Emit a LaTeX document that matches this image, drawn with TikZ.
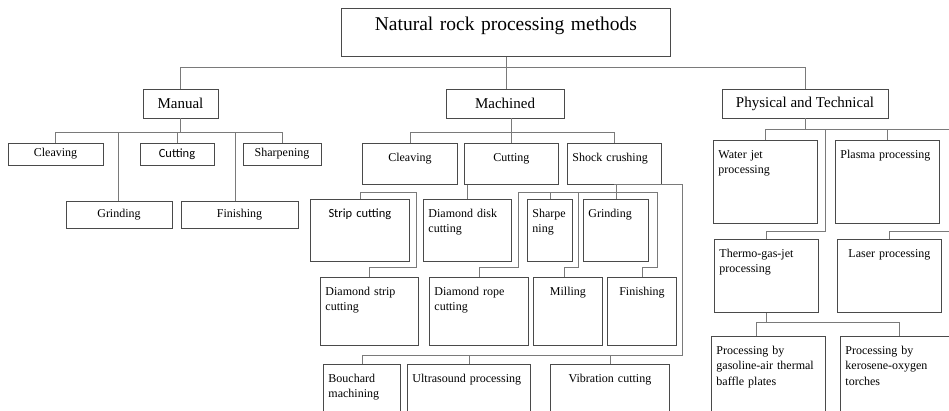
\documentclass[tikz,border=0pt]{standalone}
\usepackage{fontspec}
\setmainfont{Liberation Serif}
\newfontfamily\calib{Carlito}
\usepackage{tikz}
\usetikzlibrary{positioning,calc}
\definecolor{boxc}{HTML}{4A4A4A}
\definecolor{linec}{HTML}{7A7A7A}

\begin{document}
\begin{tikzpicture}[
    x=1pt, y=-1pt,
    link/.style={draw=linec, line width=0.9pt},
    titlebox/.style={draw=boxc, line width=0.9pt, anchor=north west, inner xsep=5pt, inner ysep=6pt, align=center, font=\fontsize{19.5}{23}\selectfont},
    groupbox/.style={draw=boxc, line width=0.9pt, inner sep=0pt, font=\fontsize{15}{17}\selectfont},
    leafbox/.style={draw=boxc, line width=0.9pt, inner sep=0pt, font=\fontsize{12}{15.5}\selectfont},
    tb/.style 2 args={draw=boxc, line width=0.9pt, anchor=north west, inner xsep=5pt, inner ysep=6pt, text height=12pt, text width=#1pt, text depth=#2pt, align=left, font=\fontsize{12}{15.5}\selectfont}
]
    \useasboundingbox (0,0) rectangle (949,411);
    \clip (0,0) rectangle (949,411);
    \fill[white] (0,0) rectangle (949,411);

    % top and first level
    \node [titlebox, text width=319pt, text height=16pt, text depth=20pt] (title) at (341,8) {Natural rock processing methods};
    \node [groupbox, minimum width=75pt, minimum height=29pt] (manual) at (180.5,103.5) {Manual};
    \node [groupbox, minimum width=118pt, minimum height=29pt] (machined) at (505,103.5) {Machined};
    \node [groupbox, minimum width=166pt, minimum height=29pt] (phys) at (805,103.5) {Physical and Technical};

    % manual
    \node [leafbox, minimum width=95pt, minimum height=22pt] (mcleav) at (55.5,154) {Cleaving};
    \node [leafbox, minimum width=74pt, minimum height=22pt, font=\calib\fontsize{12.5}{15}\selectfont] (mcut) at (177,154) {Cutting};
    \node [leafbox, minimum width=78pt, minimum height=22pt] (msharp) at (282,154) {Sharpening};
    \node [leafbox, minimum width=106pt, minimum height=27pt] (mgrind) at (119,214.5) {Grinding};
    \node [leafbox, minimum width=117pt, minimum height=27pt] (mfin) at (239.5,214.5) {Finishing};

    % machined
    \node [tb={85}{17}, align=center] (kcleav) at (362,143) {Cleaving};
    \node [tb={84}{17}, align=center] (kcut) at (464,143) {Cutting};
    \node [tb={84}{17}] (kshock) at (567,143) {Shock crushing};
    \node [tb={89}{38}, align=center, font=\calib\fontsize{12.5}{15.5}\selectfont] (strip) at (310,199) {Strip cutting};
    \node [tb={78}{38}] (ddisk) at (423,199) {Diamond disk\\cutting};
    \node [tb={35}{38}] (sharpn) at (527,199) {Sharpe\\ning};
    \node [tb={55}{38}] (kgrind) at (583,199) {Grinding};
    \node [tb={88}{44}] (dstrip) at (320,277) {Diamond strip\\cutting};
    \node [tb={89}{44}] (drope) at (429,277) {Diamond rope\\cutting};
    \node [tb={59}{44}, align=center] (milling) at (533,277) {Milling};
    \node [tb={59}{44}, align=center] (kfin) at (607,277) {Finishing};
    \node [tb={67}{42}] (bouch) at (323,364) {Bouchard\\machining};
    \node [tb={113}{42}] (ultra) at (407,364) {Ultrasound processing};
    \node [tb={109}{42}, align=center] (vibr) at (550,364) {Vibration cutting};

    % physical and technical
    \node [tb={94}{59}] (water) at (713,140) {Water jet\\processing};
    \node [tb={94}{59}] (plasma) at (835,140) {Plasma processing};
    \node [tb={94}{49}] (thermo) at (714,239) {Thermo-gas-jet\\processing};
    \node [tb={94}{49}, align=center] (laser) at (837,239) {Laser processing};
    \node [tb={104}{66}] (gas) at (711,336) {Processing by\\gasoline-air thermal\\baffle plates};
    \node [tb={108}{66}] (kero) at (840,336) {Processing by\\kerosene-oxygen\\torches};

    % connectors, top
    \draw [link] (title.south) -- (title.south |- machined.north);
    \draw [link] (manual.north) |- (phys.north |- 0,67) -- (phys.north);

    % connectors, manual
    \draw [link] (manual.south) -- (manual.south |- 0,132);
    \draw [link] (mcleav.north) |- (msharp.north |- 0,132) -- (msharp.north);
    \draw [link] (mcut.north) -- (mcut.north |- 0,132);
    \draw [link] ([xshift=-1pt]mgrind.north) -- ([xshift=-1pt]mgrind.north |- 0,132);
    \draw [link] ([xshift=-4.5pt]mfin.north) -- ([xshift=-4.5pt]mfin.north |- 0,132);

    % connectors, machined
    \draw [link] (kcut.north) -- (kcut.north |- machined.south);
    \draw [link] (kcleav.north) |- (kshock.north |- 0,132) -- (kshock.north);
    \draw [link] (strip.north) |- (416,192) |- (dstrip.north |- 0,267) -- (dstrip.north);
    \draw [link] (ddisk.north) -- (ddisk.north |- kcut.south);
    \draw [link] (drope.north) |- (518,267) |- (657,192) |- (kfin.north |- 0,267) -- (kfin.north);
    \draw [link] (sharpn.north) -- (sharpn.north |- 0,192);
    \draw [link] ([xshift=-4pt]milling.north) |- (578,267) -- (578,192);
    \draw [link] (kgrind.north) -- (kgrind.north |- kshock.south);
    \draw [link] (kshock.south) -| (682,355) -| (bouch.north);
    \draw [link] (ultra.north) -- (ultra.north |- 0,355);
    \draw [link] (vibr.north) -- (vibr.north |- 0,355);

    % connectors, physical and technical
    \draw [link] (phys.south) -- (phys.south |- 0,129);
    \draw [link] (water.north) |- (960,129) |- (laser.north |- 0,231) -- (laser.north);
    \draw [link] (plasma.north) -- (plasma.north |- 0,129);
    \draw [link] (thermo.north) |- (825,231) -- (825,129);
    \draw [link] (thermo.south) -- (thermo.south |- 0,322);
    \draw [link] ([xshift=-12pt]gas.north) |- (kero.north |- 0,322) -- (kero.north);
\end{tikzpicture}
\end{document}
